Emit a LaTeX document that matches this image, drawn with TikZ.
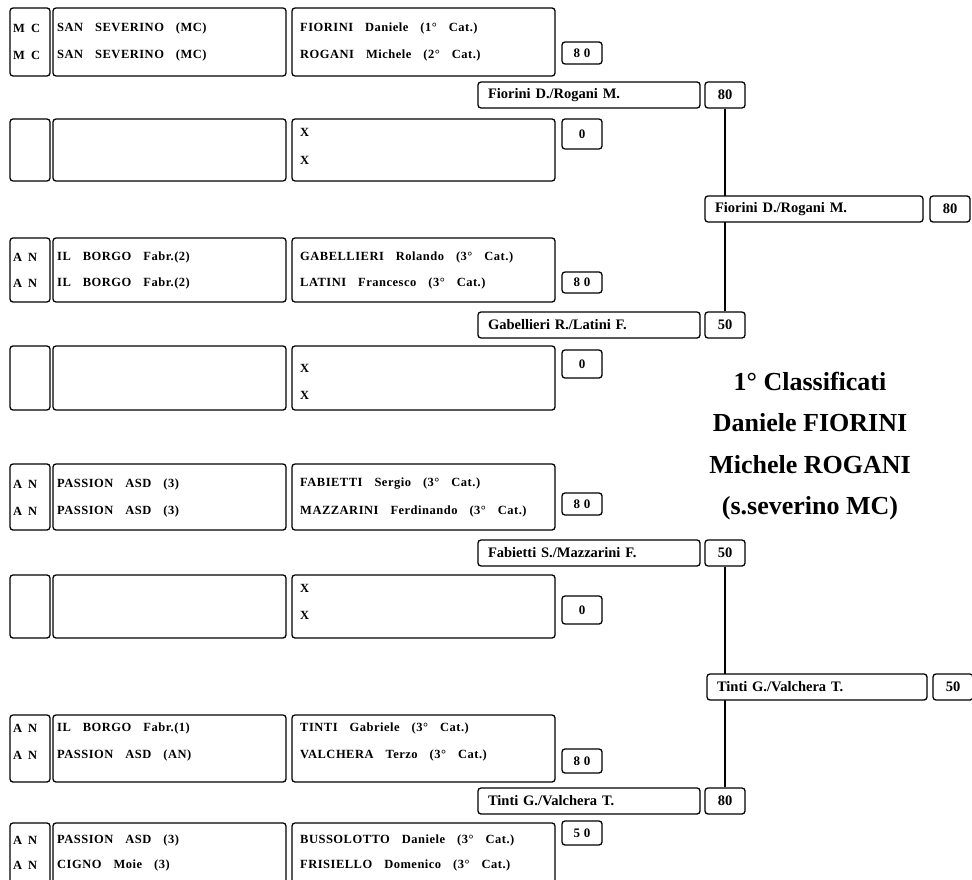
\documentclass[tikz,border=0pt]{standalone}
\usepackage{fontspec}
\setmainfont{Liberation Serif}
\newfontfamily\rowfont[LetterSpace=4]{Liberation Serif}
\usepackage{tikz}

\newcommand{\rowtext}{\rowfont\fontsize{12.5}{14}\selectfont\bfseries\spaceskip 12pt\relax}
\newcommand{\provtext}{\rowfont\fontsize{12.5}{14}\selectfont\bfseries\spaceskip 6pt\relax}
\newcommand{\ptstext}{\rowfont\fontsize{13}{15}\selectfont\bfseries\spaceskip 4pt\relax}

\tikzset{
    frame/.style={draw, line width=1.3pt, rounded corners=3pt, fill=white},
    row/.style={anchor=west, inner sep=0pt, font={\rowtext}},
    provrow/.style={anchor=west, inner sep=0pt, font={\provtext}},
    pts/.style={inner sep=0pt, font={\ptstext}},
    winbox/.style={frame, minimum height=26pt, text width=202pt, inner xsep=10pt, inner ysep=0pt,
        align=left, font={\fontsize{14.5}{16}\selectfont\bfseries}},
    ptsbox/.style={frame, minimum width=40pt, minimum height=26pt, inner sep=0pt,
        font={\fontsize{14.5}{16}\selectfont\bfseries}},
    link/.style={line width=1.6pt},
}

\begin{document}
\begin{tikzpicture}[x=1pt, y=-1pt]
    \useasboundingbox (0,0) rectangle (972,880);

    % first round: province, club, players, points
    \foreach \k/\ytop/\ybot/\rowa/\rowb/\prova/\provb/\cluba/\clubb/\namea/\nameb/\score/\ptop/\pbot in {
        1/8/76/28/55/M C/M C/SAN SEVERINO (MC)/SAN SEVERINO (MC)/FIORINI Daniele (1° Cat.)/ROGANI Michele (2° Cat.)/8 0/42/64,
        2/119/181/132/160/ / / / /X/X/0/119/149,
        3/238/302/257/283/A N/A N/IL BORGO Fabr.(2)/IL BORGO Fabr.(2)/GABELLIERI Rolando (3° Cat.)/LATINI Francesco (3° Cat.)/8 0/272/293,
        4/346/410/368/395/ / / / /X/X/0/350/378,
        5/464/530/484/511/A N/A N/PASSION ASD (3)/PASSION ASD (3)/FABIETTI Sergio (3° Cat.)/MAZZARINI Ferdinando (3° Cat.)/8 0/493/515,
        6/575/638/588/615/ / / / /X/X/0/596/624,
        7/715/782/728/755/A N/A N/IL BORGO Fabr.(1)/PASSION ASD (AN)/TINTI Gabriele (3° Cat.)/VALCHERA Terzo (3° Cat.)/8 0/749/773,
        8/823/890/840/865/A N/A N/PASSION ASD (3)/CIGNO Moie (3)/BUSSOLOTTO Daniele (3° Cat.)/FRISIELLO Domenico (3° Cat.)/5 0/821/845} {
        \draw[frame] (10,\ytop) rectangle (50,\ybot);
        \draw[frame] (53,\ytop) rectangle (286,\ybot);
        \draw[frame] (292,\ytop) rectangle (555,\ybot);
        \node[provrow] (prov\k a) at (13,\rowa) {\prova};
        \node[provrow] (prov\k b) at (13,\rowb) {\provb};
        \node[row] (club\k a) at (57,\rowa) {\cluba};
        \node[row] (club\k b) at (57,\rowb) {\clubb};
        \node[row] (pair\k a) at (300,\rowa) {\namea};
        \node[row] (pair\k b) at (300,\rowb) {\nameb};
        \draw[frame] (562,\ptop) rectangle (602,\pbot);
        \node[pts] (pts\k) at (582,{(\ptop+\pbot)/2}) {\score};
    }

    % second round
    \node[winbox] (win1) at (589,95) {Fiorini D./Rogani M.};
    \node[ptsbox] (win1s) at (725,95) {80};
    \node[winbox] (win2) at (589,325) {Gabellieri R./Latini F.};
    \node[ptsbox] (win2s) at (725,325) {50};
    \node[winbox] (win3) at (589,553) {Fabietti S./Mazzarini F.};
    \node[ptsbox] (win3s) at (725,553) {50};
    \node[winbox] (win4) at (589,801) {Tinti G./Valchera T.};
    \node[ptsbox] (win4s) at (725,801) {80};

    \draw[link] (win1s.south) -- (win2s.north);
    \draw[link] (win3s.south) -- (win4s.north);

    % final
    \node[winbox, text width=198pt] (fin1) at (814,209) {Fiorini D./Rogani M.};
    \node[ptsbox] (fin1s) at (950,209) {80};
    \node[winbox, text width=200pt] (fin2) at (817,687) {Tinti G./Valchera T.};
    \node[ptsbox] (fin2s) at (953,687) {50};

    \node[align=center, font={\fontsize{26}{41.5}\selectfont\bfseries}] (champ) at (810,446)
        {1° Classificati\\Daniele FIORINI\\Michele ROGANI\\(s.severino MC)};
\end{tikzpicture}
\end{document}
